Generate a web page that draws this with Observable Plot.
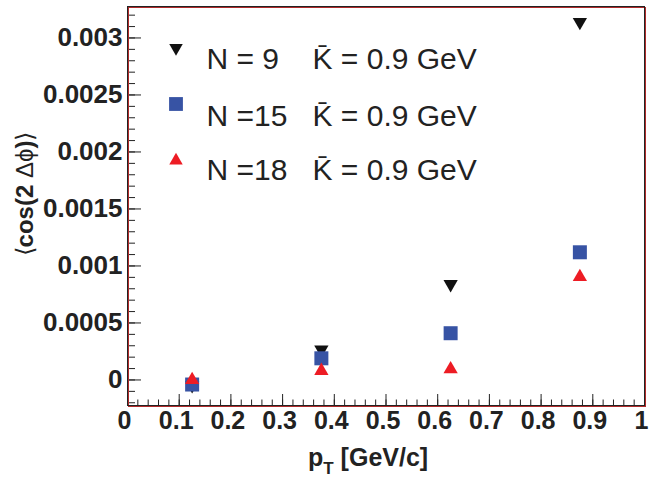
<!DOCTYPE html>
<html><head><meta charset="utf-8">
<script src="https://cdn.jsdelivr.net/npm/d3@7"></script>
<script src="https://cdn.jsdelivr.net/npm/@observablehq/plot@0.6"></script>
<style>
body{margin:0;background:#fff}
#chart{width:649px;height:478px}
</style>
</head><body><div id="chart"></div>
<script>
// ---- data ----
const pt = [0.125, 0.375, 0.625, 0.875];
const seriesNames = ["N = 9", "N =15", "N =18"];
const kLabels = ["K\u0304 = 0.9 GeV", "K\u0304 = 0.9 GeV", "K\u0304 = 0.9 GeV"];
const valuesN9 = [-0.000047, 0.000266, 0.00084, 0.00314];
const valuesN15 = [-0.00004, 0.00019, 0.00041, 0.00112];
const valuesN18 = [0.0, 0.00008, 0.000094, 0.000904];
const xTicks = [0, 0.1, 0.2, 0.3, 0.4, 0.5, 0.6, 0.7, 0.8, 0.9, 1];
const yTicks = [0, 0.0005, 0.001, 0.0015, 0.002, 0.0025, 0.003];
const xTitle = ["p", "T", " [GeV/c]"];
const yTitle = ["\u27E8", "cos(2 ", "\u0394\u03D5", ")", "\u27E9"];

// ---- styles ----
const symbols = ["triangle", "square", "triangle"];
const rotations = [180, 0, 0];
const colors = ["#111111", "#3753a4", "#ed1c24"];
const radii = [5.3, 7.9, 5.3];
const legendR = [5.0, 7.8, 5.0];
const legendDy = [41.5, 97.5, 154];
const legendTextDy = [53, 110, 164];
const allValues = [valuesN9, valuesN15, valuesN18];

const table = allValues.flatMap((vals, s) => pt.map((x, i) => ({pt: x, v: vals[i], s})));
const fmt = d => String(+(+d).toFixed(4));
const font = "Liberation Sans, Arial, Helvetica, sans-serif";

const marks = [
  // minor + major ticks (inward)
  Plot.axisX({ticks: 50, tickSize: -5.5, fill: "none", stroke: "#222", label: null}),
  Plot.axisX(xTicks, {tickSize: -11, fill: "none", stroke: "#222", label: null}),
  Plot.axisY({ticks: 35, tickSize: -8, fill: "none", stroke: "#222", label: null}),
  Plot.axisY(yTicks, {tickSize: -14, fill: "none", stroke: "#222", label: null}),
  // labels
  Plot.axisX(xTicks, {tickSize: 0, tickPadding: 6, dx: -3, tickFormat: fmt, label: null, fontSize: 25, fontWeight: "bold", fill: "#222"}),
  Plot.axisY(yTicks, {tickSize: 0, tickPadding: 5, tickFormat: fmt, label: null, fontSize: 26, fontWeight: "bold", fill: "#222"}),
  Plot.frame({stroke: "#b02a2a", dx: 1, dy: 1}),
  Plot.frame({stroke: "#222"}),
];

allValues.forEach((_, s) => {
  marks.push(Plot.dot(table.filter(d => d.s === s), {
    x: "pt", y: "v", symbol: symbols[s], rotate: rotations[s], fill: colors[s], r: radii[s], stroke: null
  }));
  // legend
  marks.push(Plot.dot([seriesNames[s]], {
    frameAnchor: "top-left", dx: 48.5, dy: legendDy[s], symbol: symbols[s], rotate: rotations[s], fill: colors[s], r: legendR[s], stroke: null
  }));
  marks.push(Plot.text([seriesNames[s]], {
    text: d => d, frameAnchor: "top-left", dx: 79, dy: legendTextDy[s], textAnchor: "start", lineAnchor: "middle", fontSize: 30, fill: "#222"
  }));
  marks.push(Plot.text([kLabels[s]], {
    text: d => d, frameAnchor: "top-left", dx: 185, dy: legendTextDy[s], textAnchor: "start", lineAnchor: "middle", fontSize: 30, fill: "#222"
  }));
});

const chart = Plot.plot({
  width: 649,
  height: 478,
  marginLeft: 127,
  marginRight: 5,
  marginTop: 6,
  marginBottom: 73,
  style: {fontFamily: font, background: "#fff"},
  x: {domain: [0, 1]},
  y: {domain: [-0.000224, 0.003276]},
  marks
});
document.getElementById("chart").appendChild(chart);

// axis titles (with sub-script / mixed weights)
const svg = d3.select(chart);
const xt = svg.append("text")
  .attr("x", 308).attr("y", 466)
  .attr("text-anchor", "start")
  .attr("font-family", font).attr("font-size", 25).attr("font-weight", "bold").attr("fill", "#222");
xt.append("tspan").text(xTitle[0]);
xt.append("tspan").attr("font-size", 17).attr("dy", 8).text(xTitle[1]);
xt.append("tspan").attr("dy", -8).text(xTitle[2]);

const yt = svg.append("text")
  .attr("transform", "translate(33,194) rotate(-90)")
  .attr("text-anchor", "middle")
  .attr("font-family", font).attr("font-size", 24).attr("font-weight", "bold").attr("fill", "#222");
yt.append("tspan").attr("font-weight", "normal").text(yTitle[0]);
yt.append("tspan").text(yTitle[1]);
yt.append("tspan").attr("font-weight", "normal").text(yTitle[2]);
yt.append("tspan").text(yTitle[3]);
yt.append("tspan").attr("font-weight", "normal").text(yTitle[4]);
</script>
</body></html>
